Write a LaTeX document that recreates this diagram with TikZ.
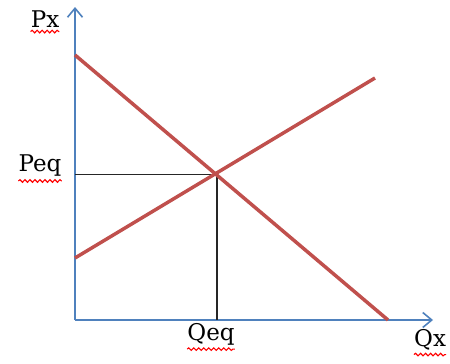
\documentclass[tikz,border=0pt]{standalone}
\usepackage{fontspec}
\setmainfont{DejaVu Serif}
\usetikzlibrary{arrows.meta,decorations.pathmorphing}
\definecolor{axisblue}{HTML}{4F81BD}
\definecolor{curvered}{HTML}{C0504D}
\definecolor{guide}{HTML}{262626}
\begin{document}
\begin{tikzpicture}[x=1pt,y=-1pt,
  axis/.style={draw=axisblue,line width=1.6pt,-{Straight Barb[length=9pt,width=15pt,line width=1.6pt]}},
  curve/.style={draw=curvered,line width=3.5pt},
  guideline/.style={draw=guide,line width=1.8pt},
  lab/.style={font=\fontsize{23}{23}\selectfont,inner sep=0pt},
  squiggle/.style={draw=red,line width=1.1pt,decorate,decoration={snake,amplitude=1.3pt,segment length=5pt}}]
\useasboundingbox (0,0) rectangle (450,364);
\coordinate (O) at (75,320);
\coordinate (ytip) at (75,7);
\coordinate (xtip) at (433,320);
\coordinate (d1) at (75,55);
\coordinate (d2) at (388,320);
\coordinate (s1) at (75,258);
\coordinate (s2) at (375,78);
\coordinate (E) at (217,174.5);
\coordinate (Py) at (75,174.5);
\coordinate (Qx0) at (217,320);
\draw[axis] (O) -- (ytip);
\draw[axis] (O) -- (xtip);
\draw[guideline] (Py) -- (E) -- (Qx0);
\draw[curve] (d1) -- (d2);
\draw[curve] (s1) -- (s2);
\node[lab] (px) at (45,19) {Px};
\node[lab] (peq) at (40,166) {Peq};
\node[lab] (qeq) at (211,334) {Qeq};
\node[lab,anchor=west] (qxl) at (414,340) {Qx};
\draw[squiggle] ([yshift=-4pt]px.south west) -- ([yshift=-4pt]px.south east);
\draw[squiggle] ([yshift=-4pt]peq.south west) -- ([yshift=-4pt]peq.south east);
\draw[squiggle] ([yshift=-4pt]qeq.south west) -- ([yshift=-4pt]qeq.south east);
\draw[squiggle] ([yshift=-4pt]qxl.south west) -- ([yshift=-4pt]qxl.south east);
\end{tikzpicture}
\end{document}
